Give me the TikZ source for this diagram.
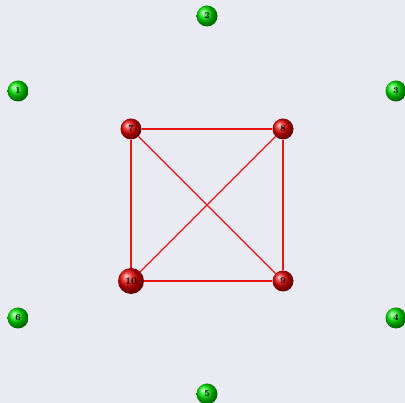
\documentclass[tikz,border=0pt]{standalone}
\usepackage{xcolor}
\usepackage{tikz}
\usetikzlibrary{positioning}
\definecolor{PlotBg}{HTML}{EAEAF2}
\definecolor{EdgeRed}{RGB}{230,20,20}

\begin{document}
\begin{tikzpicture}[x=1pt,y=-1pt,font=\small\bfseries,
  outer/.style={circle,ball color=green!90!black,inner sep=0pt,minimum size=21pt},
  inner/.style={circle,ball color=red!90!black,inner sep=0pt,minimum size=21pt},
  link/.style={EdgeRed,line width=1.1pt}]
\useasboundingbox (0,0) rectangle (405,403);
\clip (0,0) rectangle (405,403);
\fill[PlotBg] (0,0) rectangle (405,403);
\node[outer] (n1) at (18,91) {1};
\node[outer] (n2) at (207,16) {2};
\node[outer] (n3) at (396,91) {3};
\node[outer] (n4) at (396,318) {4};
\node[outer] (n5) at (207,394) {5};
\node[outer] (n6) at (18,318) {6};
\node[inner] (n7) at (131,129) {7};
\node[inner] (n8) at (283,129) {8};
\node[inner] (n9) at (283,281) {9};
\node[inner,minimum size=26pt,font=\normalsize\bfseries] (n10) at (131,281) {10};
\draw[link] (n7)--(n8) (n8)--(n9) (n9)--(n10) (n10)--(n7);
\draw[link] (n7)--(n9) (n8)--(n10);
\end{tikzpicture}
\end{document}
